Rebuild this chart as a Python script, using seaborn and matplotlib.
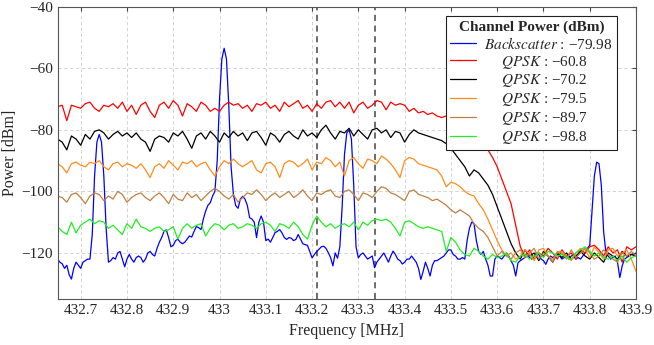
import numpy as np
import pandas as pd
import matplotlib
matplotlib.use('Agg')
import matplotlib.pyplot as plt
import seaborn as sns

# Rejilla de frecuencias (MHz)
freq = np.round(np.arange(432.65, 433.9001, 0.01), 3)
bs_freq = np.round(np.arange(432.65, 433.9001, 0.005), 3)

# Backscatter (paso 0.005 MHz)
backscatter = [
    -122, -123, -123.5, -125, -124, -127, -128.5, -125, -123, -124,
    -125, -123, -122.5, -122, -122, -114, -95, -84, -81.5, -84,
    -95, -112, -123, -122.5, -121.5, -122, -120, -119.5, -122, -124.5,
    -122, -120.5, -122, -123, -121.5, -121, -121.5, -123, -122, -120,
    -119.5, -120.5, -121, -118.5, -116.5, -115, -113, -112.5, -115, -118,
    -117.5, -116, -115.5, -116.5, -117, -116.5, -115.5, -114.5, -114.8, -113,
    -111.4, -111.8, -112.4, -109, -106.4, -104.5, -103.7, -101.5, -100, -90,
    -70, -57, -53.5, -57, -72, -92, -101, -104.6, -105.5, -102.5,
    -101.6, -102.5, -104.5, -108.5, -109, -110, -115, -110, -108, -110,
    -116, -115.5, -116.5, -115, -113.4, -113, -112.4, -113.5, -115, -115.6,
    -115, -115.2, -116, -115.6, -114, -115.5, -117, -117.3, -117.5, -119.5,
    -121.6, -120.5, -119.5, -118.8, -118, -117.8, -118.5, -119.9, -121.5, -124.2,
    -120, -121.7, -118, -105, -88, -81, -80, -83, -98, -118,
    -121.6, -120.5, -120, -121, -122, -121.5, -121, -124.8, -123, -122,
    -121, -120, -121.5, -123, -121, -119.4, -120.5, -122, -122.5, -123.6,
    -123, -122, -122, -121, -122, -123, -125, -128.6, -126, -123,
    -125, -127.5, -124, -122.5, -122.5, -122, -121.5, -121, -120, -119,
    -119, -120.5, -121, -122, -122, -121.5, -122, -116, -112, -110,
    -110.5, -116, -119.5, -120.5, -119.5, -122, -124, -127.5, -127.5, -122,
    -121, -121.5, -122, -121, -120, -121, -122.6, -124, -127.5, -123.2,
    -122.5, -122, -121.5, -121, -121.5, -122, -121, -120, -120.5, -122,
    -122.5, -123.7, -122, -121, -121.5, -121, -120.5, -121, -122, -121.5,
    -121, -122, -121, -120.5, -122, -121.5, -122, -121, -120, -118.5,
    -117.5, -106, -95, -90.5, -91, -98, -113, -120, -121, -122,
    -121.5, -121, -123, -128, -124.3, -122, -121.5, -121, -120.5, -120.5,
    -120,
]

# QPSK (paso 0.01 MHz)
qpsk_608 = [
    -72.5, -72, -77, -72, -72.5, -73, -71.5, -71, -73, -74,
    -72, -72.5, -71.5, -73, -71, -74, -72, -75, -72, -71,
    -74, -76, -72, -71, -73, -70.5, -72, -75.5, -71.5, -72.5,
    -74, -71, -72, -74, -73, -74, -72, -71, -72, -71.5,
    -73, -72, -74, -71.5, -72, -71, -73, -72, -74, -71,
    -72.5, -71.5, -70.5, -73, -72, -74, -71.5, -73, -71, -70.5,
    -72.5, -71, -73, -71, -74.5, -72, -71, -73, -72, -70.5,
    -71, -73.5, -71, -72, -71.5, -72, -74, -73, -74.5, -74,
    -75, -74.5, -75.5, -76, -75.5, -76.5, -77, -78, -79, -80,
    -81, -83, -85, -86.5, -89, -92, -96, -100, -104, -111,
    -118, -121, -119, -122, -120, -121, -118.5, -120, -122, -119,
    -121, -120, -122, -119, -120, -118, -117.5, -119, -121, -118,
    -120, -119, -123, -118, -119, -118,
]
qpsk_702 = [
    -83, -84, -86.5, -82, -83, -85, -81.5, -83, -80.5, -80,
    -81, -83, -81.5, -80.5, -82, -81, -82.5, -81, -83, -84,
    -87, -83, -82, -82.5, -84, -81, -82, -80.5, -83, -86,
    -82, -81, -83, -80.5, -82, -84, -81, -82.5, -80.5, -82,
    -81, -83.5, -81, -80.5, -82.5, -85, -81, -82, -84, -81.5,
    -80.5, -82, -83, -80, -82, -81, -82.5, -80, -78.5, -81,
    -83, -80.5, -81, -79.5, -82, -80, -81.5, -83, -80, -79.5,
    -81, -80, -82.5, -80.5, -81, -84, -81.5, -80, -81, -81.5,
    -82, -82.5, -83, -83.5, -84.5, -86, -88, -90, -92, -95,
    -93, -94, -96, -98, -101, -105, -109, -113, -117, -120,
    -122, -119, -121, -120, -122.5, -119.5, -121, -123, -120, -121.5,
    -120, -122, -121, -119.5, -121, -122, -120, -121.5, -123, -120,
    -121, -122, -119.5, -121, -120.5, -121,
]
qpsk_795 = [
    -91, -92, -94, -91, -90.5, -91.5, -92, -90.5, -91, -90,
    -92, -93, -91, -90.5, -92, -91, -91.5, -92.5, -91, -93,
    -95.5, -92, -91, -92.5, -90, -91.5, -93, -90.5, -91, -90,
    -92, -91, -90.5, -93, -95, -92, -90, -91, -89.5, -91,
    -92, -91, -90, -93, -94, -91, -90.5, -92, -95.5, -91,
    -90, -90.5, -92, -91, -89.5, -93, -90.5, -91, -89, -90,
    -92, -90.5, -95, -90, -89, -91, -92.5, -89.5, -90, -91,
    -88.5, -89.5, -91, -93, -95.5, -90, -89, -89.5, -91, -91.5,
    -92, -92.5, -93, -95, -98.5, -97, -97.5, -98.5, -100, -101,
    -101.5, -104, -106, -109, -112.5, -116, -119, -121, -120, -122,
    -121, -119, -120.5, -122.5, -119, -118.5, -121, -122, -120, -119.5,
    -121, -122.5, -120, -118.5, -119, -121.5, -118, -120, -122, -119,
    -118.5, -121, -120, -119, -122, -126,
]
qpsk_897 = [
    -101.5, -102, -103.5, -101, -100.5, -102, -104, -101.5, -100.5, -101,
    -103, -101.5, -102.5, -100, -101, -103.5, -102, -101, -100.5, -102,
    -103, -101.5, -100.5, -102, -104, -101, -102.5, -103, -100.5, -102,
    -101, -103, -101.5, -100, -99, -100, -101.5, -102.5, -101, -103.5,
    -102, -100.5, -101, -99.5, -101, -103, -101.5, -100.5, -102, -101,
    -100, -102, -101, -99.5, -101.5, -103, -100.5, -101, -100, -99.5,
    -101.5, -102, -100, -99.5, -101, -103, -100.5, -101, -102, -100,
    -98.5, -99, -100.5, -101, -102, -103, -100, -99.5, -101, -101.5,
    -102, -103, -102.5, -103.5, -104.5, -106, -107, -106, -107, -108,
    -110.5, -112, -113, -115, -118, -121, -119.5, -121, -122, -120,
    -119, -121.5, -120, -118.5, -122, -120, -121, -123, -119.5, -120,
    -122, -119, -121.5, -120, -118.5, -120, -122, -121, -119, -120.5,
    -122, -123, -120, -121, -119.5, -121,
]
qpsk_988 = [
    -111.5, -113, -114, -110, -113.5, -111, -110, -109, -110.5, -109.5,
    -110, -112, -111, -112.5, -114, -110.5, -112, -109, -111.5, -112,
    -113, -112, -111.5, -113, -112.5, -111.5, -115.5, -112, -110.5, -112,
    -111, -110.5, -114.5, -112, -110.5, -111, -112.5, -111, -110.5, -112,
    -111.5, -110.5, -111, -112, -110.5, -110, -111, -113, -110.5, -111,
    -112, -110, -111.5, -114, -115.5, -111, -108, -110, -111.5, -110.5,
    -112, -111, -110.5, -111.5, -110, -112.5, -110, -111, -109.5, -109,
    -109.5, -109, -110, -112, -114.5, -110, -109.5, -110.5, -111.5, -112,
    -111.5, -112, -112.5, -113, -119.5, -115, -116.5, -119, -120.5, -121,
    -118.5, -119.5, -121, -122, -120.5, -121.5, -121, -120, -122.5, -123,
    -121, -120.5, -122, -121, -120, -121.5, -119.5, -120, -121, -120.5,
    -121.5, -122, -120, -119, -118, -119.5, -121, -120, -121.5, -122,
    -121, -122.5, -121, -123, -121.5, -121,
]

series = [
    (bs_freq, backscatter, '#0000ff', '$Backscatter$ : \u221279.98'),
    (freq, qpsk_608, '#ff0000', '$\\quad\\;\\;QPSK$ : \u221260.8'),
    (freq, qpsk_702, '#000000', '$\\quad\\;\\;QPSK$ : \u221270.2'),
    (freq, qpsk_795, '#ff8c1a', '$\\quad\\;\\;QPSK$ : \u221279.5'),
    (freq, qpsk_897, '#bf8040', '$\\quad\\;\\;QPSK$ : \u221289.7'),
    (freq, qpsk_988, '#22ee22', '$\\quad\\;\\;QPSK$ : \u221298.8'),
]
marcas = [433.21, 433.335]

sns.set_style('white')
plt.rcParams['font.family'] = ['Liberation Serif', 'DejaVu Serif']
plt.rcParams['mathtext.fontset'] = 'stix'

fig = plt.figure(figsize=(6.54, 3.45), dpi=100)
ax = fig.add_axes([0.088, 0.133, 0.8845, 0.8475])

for x, y, color, label in series:
    df = pd.DataFrame({'Frecuencia': x, 'Potencia': y})
    sns.lineplot(data=df, x='Frecuencia', y='Potencia', color=color,
                 linewidth=0.9, label=label, ax=ax, estimator=None)

for m in marcas:
    ax.axvline(m, color='#444444', linestyle=(0, (4, 3)), linewidth=1.1, zorder=1)

ax.set_xlim(432.65, 433.9)
ax.set_ylim(-135, -40)
ax.set_xticks([432.7, 432.8, 432.9, 433.0, 433.1, 433.2, 433.3, 433.4, 433.5, 433.6, 433.7, 433.8, 433.9])
ax.set_xticklabels(['432.7', '432.8', '432.9', '433', '433.1', '433.2', '433.3',
                    '433.4', '433.5', '433.6', '433.7', '433.8', '433.9'])
ax.set_yticks([-120, -100, -80, -60, -40])
ax.grid(True, color='#cccccc', linestyle=(0, (4, 3)), linewidth=0.6)
ax.tick_params(axis='both', labelsize=11, direction='in', length=3, color='#444444',
               top=True, right=True)
for s in ax.spines.values():
    s.set_color('#555555')
    s.set_linewidth(0.8)

ax.set_xlabel('Frequency [MHz]', fontsize=11.5)
ax.set_ylabel('Power [dBm]', fontsize=11.5, labelpad=2)

leg = ax.legend(title='Channel Power (dBm)', loc='upper right',
                bbox_to_anchor=(0.967, 0.969), borderaxespad=0,
                fontsize=11, title_fontproperties={'weight': 'bold', 'size': 11},
                frameon=True, fancybox=False, framealpha=1, edgecolor='#222222',
                handlelength=1.7, handletextpad=0.5, labelspacing=0.12,
                borderpad=0.3)
leg.get_frame().set_linewidth(0.8)

plt.savefig('out.png', dpi=100)
plt.close()
